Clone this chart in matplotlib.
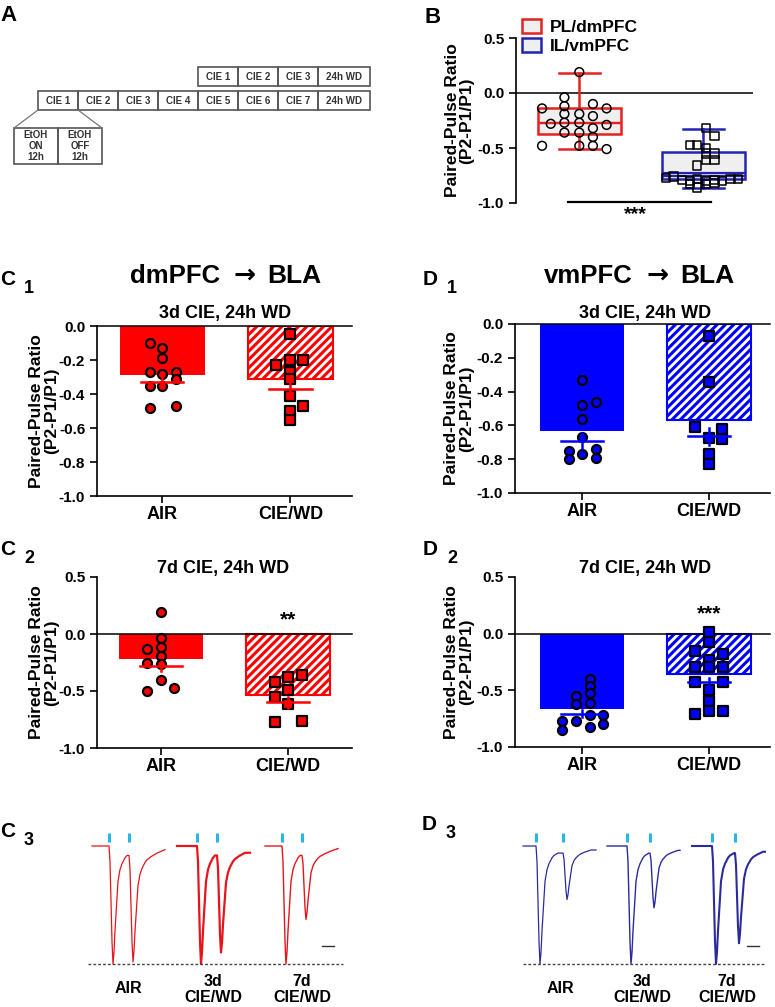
import matplotlib
matplotlib.use('Agg')
import matplotlib.pyplot as plt
from matplotlib.patches import Rectangle, Patch

plt.rcParams['font.family'] = ['Liberation Sans', 'DejaVu Sans']
plt.rcParams['font.weight'] = 'bold'
plt.rcParams['axes.labelweight'] = 'bold'
plt.rcParams['axes.unicode_minus'] = False
plt.rcParams['hatch.linewidth'] = 2.2

W, H = 775, 1007
RED = '#ff0000'
BLUE = '#0000ff'
B_RED = '#e5231f'
B_BLUE = '#2424b0'
TR_RED = '#e8141b'
TR_BLUE = '#2b2ba0'
STIM = '#29b5e8'

# ---- data ----
sched_3d = ['CIE 1', 'CIE 2', 'CIE 3', '24h WD']
sched_7d = ['CIE 1', 'CIE 2', 'CIE 3', 'CIE 4', 'CIE 5', 'CIE 6', 'CIE 7', '24h WD']
cycle = ['EtOH\nON\n12h', 'EtOH\nOFF\n12h']

groups = ['AIR', 'CIE/WD']
b_labels = ['PL/dmPFC', 'IL/vmPFC']
b_pl = dict(med=-0.27, mean=-0.27, q1=-0.37, q3=-0.14, whislo=-0.51, whishi=0.18)
b_il = dict(med=-0.73, mean=-0.755, q1=-0.78, q3=-0.54, whislo=-0.86, whishi=-0.33)
b_pl_y = [0.19, -0.04, -0.14, -0.12, -0.10, -0.14, -0.19, -0.19, -0.21, -0.28, -0.27,
          -0.27, -0.32, -0.29, -0.36, -0.36, -0.40, -0.48, -0.48, -0.48, -0.51]
b_pl_dx = [0, -0.12, -0.30, -0.12, 0.11, 0.22, -0.12, 0, 0.11, -0.23, -0.12,
           0, 0.11, 0.22, -0.12, 0, 0.11, -0.30, 0, 0.11, 0.22]
b_il_y = [-0.32, -0.39, -0.47, -0.47, -0.50, -0.55, -0.55, -0.61, -0.61, -0.66, -0.77,
          -0.76, -0.79, -0.80, -0.78, -0.80, -0.79, -0.80, -0.78, -0.78, -0.83, -0.86, -0.83, -0.82]
b_il_dx = [0.02, 0.09, -0.11, -0.05, 0.02, 0.02, 0.09, 0.02, 0.09, -0.05, -0.30,
           -0.24, -0.17, -0.11, -0.05, 0.02, 0.09, 0.15, 0.22, 0.28, -0.11, -0.05, 0.02, 0.09]

c1_bar = [-0.29, -0.31]
c1_mean = [-0.33, -0.37]
c1_sem = [0.035, 0.035]
c1_air_y = [-0.10, -0.13, -0.19, -0.27, -0.28, -0.27, -0.31, -0.35, -0.35, -0.48, -0.47]
c1_air_dx = [-0.10, 0, 0, -0.10, 0, 0.11, 0.11, -0.10, 0, -0.10, 0.11]
c1_cie_y = [-0.045, -0.23, -0.20, -0.20, -0.27, -0.31, -0.41, -0.47, -0.50, -0.55]
c1_cie_dx = [0, -0.11, 0, 0.10, 0, 0, 0, 0.10, 0, 0]

d1_bar = [-0.635, -0.57]
d1_mean = [-0.69, -0.665]
d1_sem = [0.045, 0.05]
d1_air_y = [-0.33, -0.48, -0.46, -0.56, -0.67, -0.75, -0.80, -0.77, -0.74, -0.79]
d1_air_dx = [0, 0, 0.11, 0, 0, -0.105, -0.105, 0, 0.11, 0.11]
d1_cie_y = [-0.073, -0.345, -0.61, -0.62, -0.675, -0.68, -0.77, -0.83]
d1_cie_dx = [0, 0, -0.11, 0.105, 0, 0.105, 0, 0]

c2_bar = [-0.217, -0.534]
c2_mean = [-0.285, -0.60]
c2_sem = [0.04, 0.05]
c2_air_y = [0.19, -0.035, -0.13, -0.11, -0.19, -0.25, -0.26, -0.40, -0.50, -0.47]
c2_air_dx = [0, 0, -0.11, 0, 0, -0.11, 0, 0, -0.11, 0.105]
c2_cie_y = [-0.42, -0.38, -0.36, -0.55, -0.49, -0.61, -0.77, -0.76]
c2_cie_dx = [-0.105, 0, 0.11, -0.105, 0, 0, -0.105, 0.11]

d2_bar = [-0.667, -0.36]
d2_mean = [-0.705, -0.43]
d2_sem = [0.03, 0.04]
d2_air_y = [-0.40, -0.46, -0.55, -0.52, -0.62, -0.61, -0.72, -0.77, -0.72, -0.80, -0.77, -0.85, -0.82]
d2_air_dx = [0.06, 0.06, -0.05, 0.06, -0.05, 0.06, 0.06, -0.05, 0.16, 0.16, -0.16, -0.16, 0.06]
d2_cie_y = [0.015, -0.07, -0.15, -0.23, -0.18, -0.29, -0.29, -0.29, -0.43, -0.43, -0.50, -0.59,
            -0.68, -0.71, -0.68]
d2_cie_dx = [0, 0, -0.11, 0, 0.11, -0.11, 0, 0.11, -0.11, 0.11, 0, 0, 0, -0.11, 0.11]

# EPSC waveform (time after stim, amplitude / first peak)
epsc_t = [0, 1, 3, 4, 5, 6, 8, 9, 11, 13, 16, 18, 22, 28, 36, 60]
epsc_v = [0, -0.13, -0.81, -1.0, -0.90, -0.72, -0.44, -0.30, -0.20, -0.15, -0.10, -0.08,
          -0.06, -0.04, -0.025, -0.01]
trace_labels = ['AIR', '3d\nCIE/WD', '7d\nCIE/WD']
c3_delay = [17, 20, 17]
c3_interval = [20, 20, 20]
c3_ppr = [0.91, 0.83, 0.55]
d3_delay = [13, 20, 20]
d3_interval = [27, 23, 23]
d3_ppr = [0.40, 0.47, 0.77]
trace_len = 73


fig = plt.figure(figsize=(W / 100, H / 100), dpi=100)


def px_axes(l, t, r, b):
    return fig.add_axes([l / W, 1 - b / H, (r - l) / W, (b - t) / H])


def ftext(x, y, s, **kw):
    return fig.text(x / W, 1 - y / H, s, **kw)


# ---- A: schedule ----
axa = px_axes(0, 0, 390, 175)
axa.set_xlim(0, 390)
axa.set_ylim(175, 0)
axa.axis('off')
x0 = 38
for i, lab in enumerate(sched_7d):
    w = 52 if 'WD' in lab else 40
    axa.add_patch(Rectangle((x0 + 40 * i, 91), w, 19, fill=False, ec='#555555', lw=1.2))
    axa.text(x0 + 40 * i + w / 2, 100.5, lab, ha='center', va='center', fontsize=7, color='#333333')
x3 = x0 + 40 * (len(sched_7d) - len(sched_3d))
for i, lab in enumerate(sched_3d):
    w = 52 if 'WD' in lab else 40
    axa.add_patch(Rectangle((x3 + 40 * i, 67), w, 19, fill=False, ec='#555555', lw=1.2))
    axa.text(x3 + 40 * i + w / 2, 76.5, lab, ha='center', va='center', fontsize=7, color='#333333')
for i, lab in enumerate(cycle):
    axa.add_patch(Rectangle((14 + 44 * i, 128), 44, 36, fill=False, ec='#555555', lw=1.2))
    axa.text(36 + 44 * i, 146, lab, ha='center', va='center', fontsize=7, color='#333333',
             linespacing=1.1)
axa.plot([38, 14], [110, 128], color='#777777', lw=0.9)
axa.plot([78, 102], [110, 128], color='#777777', lw=0.9)
ftext(0, 21, 'A', fontsize=16, va='baseline')

# ---- B: box plot ----
axb = px_axes(516, 38, 753, 203)
for pos, st, col in [(0, b_pl, B_RED), (1, b_il, B_BLUE)]:
    axb.bxp([st], positions=[pos], widths=0.67, capwidths=0.33, patch_artist=True,
            showfliers=False, showmeans=True, meanline=True,
            boxprops=dict(facecolor='#efefef', edgecolor=col, linewidth=1.8),
            whiskerprops=dict(color=col, linewidth=1.8),
            capprops=dict(color=col, linewidth=1.8),
            medianprops=dict(color=col, linewidth=1.6),
            meanprops=dict(color=col, linewidth=1.6, linestyle='-'), zorder=2)
axb.scatter([0 + d for d in b_pl_dx], b_pl_y, marker='o', s=40, facecolor='none',
            edgecolor='black', linewidths=1.1, zorder=3)
axb.scatter([1 + d for d in b_il_dx], b_il_y, marker='s', s=36, facecolor='none',
            edgecolor='black', linewidths=1.1, zorder=3)
axb.set_xlim(-0.51, 1.40)
axb.set_ylim(-1.0, 0.5)
for s in ['top', 'right', 'bottom']:
    axb.spines[s].set_visible(False)
axb.spines['left'].set_linewidth(1.2)
axb.set_xticks([])
axb.set_yticks([0.5, 0.0, -0.5, -1.0])
axb.set_yticklabels(['0.5', '0.0', '-0.5', '-1.0'])
axb.tick_params(axis='y', length=5, width=1.2, labelsize=11)
axb.axhline(0, color='black', lw=1.1, zorder=1)
axb.plot([-0.09, 1.06], [-0.99, -0.99], color='black', lw=1.6, clip_on=False)
axb.text(0.45, -1.03, '***', ha='center', va='top', fontsize=14, clip_on=False)
axb.set_ylabel('Paired-Pulse Ratio\n(P2-P1/P1)', fontsize=12.5, linespacing=1.0)
axb.yaxis.set_label_coords(-0.175, 0.5)
fig.legend([Patch(facecolor='#efefef', edgecolor=B_RED, lw=1.8),
            Patch(facecolor='#efefef', edgecolor=B_BLUE, lw=1.8)], b_labels,
           loc='upper left', bbox_to_anchor=(522 / W, 1 - 19 / H), frameon=False,
           fontsize=12.5, handlelength=1.1, handleheight=0.9, handletextpad=0.5,
           labelspacing=0.15, borderpad=0, borderaxespad=0)
ftext(425, 23, 'B', fontsize=16, va='baseline')


# ---- bar panels ----
def bar_panel(rect, bars, means, sems, pts, color, xlim, ylim, yticks, ylab_x):
    ax = px_axes(*rect)
    ax.set_xlim(*xlim)
    ax.set_ylim(*ylim)
    for s in ['top', 'right']:
        ax.spines[s].set_visible(False)
    for s in ['left', 'bottom']:
        ax.spines[s].set_linewidth(1.2)
    x = [0, 1]
    ax.bar(x[0], bars[0], width=0.66, color=color, lw=0, zorder=1)
    ax.bar(x[1], bars[1], width=0.66, facecolor='white', edgecolor=color, hatch='////',
           linewidth=1.5, zorder=1)
    ax.axhline(0, color='black', lw=1.1, zorder=2, clip_on=False)
    for i, (dx, y) in enumerate(pts):
        ax.scatter([x[i] + d for d in dx], y, marker=['o', 's'][i], s=42, facecolor=color,
                   edgecolor='black', linewidths=1.6, zorder=3, clip_on=False)
    for i in range(2):
        ax.plot([x[i] - 0.165, x[i] + 0.165], [means[i]] * 2, color=color, lw=1.8, zorder=4)
        ax.plot([x[i]] * 2, [means[i] - sems[i], means[i] + sems[i]], color=color, lw=1.8, zorder=4)
    ax.set_xticks(x)
    ax.set_xticklabels(groups)
    ax.set_yticks(yticks)
    ax.set_yticklabels(['%.1f' % v for v in yticks])
    ax.tick_params(axis='y', length=5, width=1.2, labelsize=11)
    ax.tick_params(axis='x', length=5, width=1.2, labelsize=13, pad=2)
    ax.set_ylabel('Paired-Pulse Ratio\n(P2-P1/P1)', fontsize=12.5, linespacing=1.0)
    ax.yaxis.set_label_coords(ylab_x, 0.5)
    return ax


ticks1 = [0.0, -0.2, -0.4, -0.6, -0.8, -1.0]
ticks2 = [0.5, 0.0, -0.5, -1.0]
bar_panel((97, 326, 352, 496), c1_bar, c1_mean, c1_sem,
          [(c1_air_dx, c1_air_y), (c1_cie_dx, c1_cie_y)], RED, (-0.51, 1.48), (-1.0, 0.0),
          ticks1, -0.15)
bar_panel((515, 324, 770, 493), d1_bar, d1_mean, d1_sem,
          [(d1_air_dx, d1_air_y), (d1_cie_dx, d1_cie_y)], BLUE, (-0.53, 1.48), (-1.0, 0.0),
          ticks1, -0.16)
axc2 = bar_panel((97, 577, 352, 748), c2_bar, c2_mean, c2_sem,
                 [(c2_air_dx, c2_air_y), (c2_cie_dx, c2_cie_y)], RED, (-0.50, 1.50), (-1.0, 0.5),
                 ticks2, -0.15)
axd2 = bar_panel((515, 577, 770, 747), d2_bar, d2_mean, d2_sem,
                 [(d2_air_dx, d2_air_y), (d2_cie_dx, d2_cie_y)], BLUE, (-0.53, 1.48), (-1.0, 0.5),
                 ticks2, -0.16)
axc2.text(1, 0.04, '**', ha='center', va='bottom', fontsize=15)
axd2.text(1, 0.09, '***', ha='center', va='bottom', fontsize=15)

# pathway titles: name, bold arrow, target
for xr, xa, name in [(220, 245, 'dmPFC'), (633, 658, 'vmPFC')]:
    ftext(xr, 283, name, ha='right', va='baseline', fontsize=18.5)
    ftext(xa, 283, '\u2192', ha='center', va='baseline', fontsize=19, family='DejaVu Sans')
    ftext(xa + 22, 283, 'BLA', ha='left', va='baseline', fontsize=19)
ftext(225, 318, '3d CIE, 24h WD', ha='center', va='baseline', fontsize=13)
ftext(645, 318, '3d CIE, 24h WD', ha='center', va='baseline', fontsize=13)
ftext(223, 573, '7d CIE, 24h WD', ha='center', va='baseline', fontsize=13)
ftext(645, 573, '7d CIE, 24h WD', ha='center', va='baseline', fontsize=13)

for lx, ly, letter, sub in [(0, 285, 'C', '1'), (423, 285, 'D', '1'), (0, 555, 'C', '2'),
                            (423, 555, 'D', '2'), (0, 837, 'C', '3'), (422, 830, 'D', '3')]:
    ftext(lx, ly, letter, fontsize=15, va='baseline')
    ftext(lx + 24, ly + 8, sub, fontsize=13, va='baseline')


# ---- C3 / D3 traces ----
def trace_xy(start, delay, interval, ppr, end):
    xs = [start, start + delay]
    ys = [0.0, 0.0]
    s1 = start + delay
    for t, v in zip(epsc_t, epsc_v):
        if 0 < t < interval:
            xs.append(s1 + t)
            ys.append(v)
    base = ys[-1]
    s2 = s1 + interval
    for t, v in zip(epsc_t, epsc_v):
        if s2 + t <= end:
            xs.append(s2 + t)
            ys.append(base * max(0.0, 1 - t / 40) + ppr * v)
    xs.append(end)
    ys.append(ys[-1])
    return xs, ys


def trace_panel(rect, starts, delays, intervals, pprs, color, widths, dash, bar, label_x):
    ax = px_axes(*rect)
    ax.set_xlim(rect[0], rect[2])
    ax.set_ylim(-(rect[3] - 846) / 118, -(rect[1] - 846) / 118)
    ax.axis('off')
    for st, dl, iv, pp, lw in zip(starts, delays, intervals, pprs, widths):
        xs, ys = trace_xy(st, dl, iv, pp, st + trace_len)
        ax.plot(xs, ys, color=color, lw=lw, solid_joinstyle='round')
        for sx in [st + dl, st + dl + iv]:
            ax.plot([sx, sx], [0.03, 0.11], color=STIM, lw=2.2, solid_capstyle='butt')
    ax.plot(dash, [-1.0, -1.0], color='#444444', lw=1.0, ls=(0, (2, 1.5)))
    ax.plot(bar, [-0.85, -0.85], color='#333333', lw=1.0)
    for lx, lab in zip(label_x, trace_labels):
        ftext(lx, 1002 if '\n' in lab else 993, lab, ha='center', va='baseline',
              fontsize=11.5, linespacing=1.1)


trace_panel((80, 825, 350, 972), [92, 177, 265], c3_delay, c3_interval, c3_ppr, TR_RED,
            [0.9, 1.6, 1.0], [88, 343], [322, 334], [128, 213, 302])
trace_panel((515, 825, 775, 972), [523, 607, 692], d3_delay, d3_interval, d3_ppr, TR_BLUE,
            [0.9, 1.0, 1.5], [523, 765], [747, 759], [560, 642, 727])

fig.savefig('out.png', dpi=100)
